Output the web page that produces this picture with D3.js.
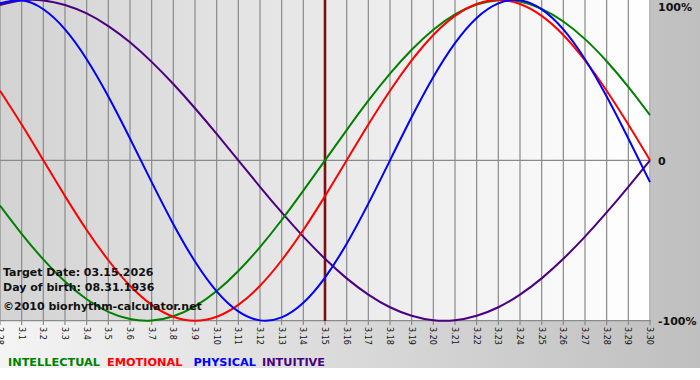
<!DOCTYPE html>
<html>
<head>
<meta charset="utf-8">
<script src="https://cdn.jsdelivr.net/npm/d3@7"></script>
<style>
  html, body { margin: 0; padding: 0; background: #fff; }
  svg { display: block; }
</style>
</head>
<body>
<svg id="chart" width="700" height="380"></svg>
<script>
// ---- data ----
const days = ["2.28","3.1","3.2","3.3","3.4","3.5","3.6","3.7","3.8","3.9","3.10",
  "3.11","3.12","3.13","3.14","3.15","3.16","3.17","3.18","3.19","3.20",
  "3.21","3.22","3.23","3.24","3.25","3.26","3.27","3.28","3.29","3.30"];
const intellectual = [-0.282,-0.458,-0.618,-0.756,-0.866,-0.945,-0.990,-0.999,-0.972,-0.910,-0.815,
  -0.690,-0.541,-0.372,-0.189,0.000,0.189,0.372,0.541,0.690,0.815,
  0.910,0.972,0.999,0.990,0.945,0.866,0.756,0.618,0.458,0.282];
const emotional = [0.434,0.223,0.000,-0.223,-0.434,-0.623,-0.782,-0.901,-0.975,-1.000,-0.975,
  -0.901,-0.782,-0.623,-0.434,-0.223,0.000,0.223,0.434,0.623,0.782,
  0.901,0.975,1.000,0.975,0.901,0.782,0.623,0.434,0.223,0.000];
const physical = [0.979,0.998,0.942,0.817,0.631,0.398,0.136,-0.136,-0.398,-0.631,-0.817,
  -0.942,-0.998,-0.979,-0.888,-0.731,-0.520,-0.270,0.000,0.270,0.520,
  0.731,0.888,0.979,0.998,0.942,0.817,0.631,0.398,0.136,-0.136];
const intuitive = [0.969,0.997,0.997,0.969,0.916,0.837,0.736,0.614,0.476,0.325,0.165,
  0.000,-0.165,-0.325,-0.476,-0.614,-0.736,-0.837,-0.916,-0.969,-0.997,
  -0.997,-0.969,-0.916,-0.837,-0.736,-0.614,-0.476,-0.325,-0.165,0.000];
const seriesNames = ["INTELLECTUAL","EMOTIONAL","PHYSICAL","INTUITIVE"];
const yTickValues = [1, 0, -1];
const yTickLabels = ["100%","0","-100%"];
const targetDay = "3.15";
const infoLines = ["Target Date: 03.15.2026","Day of birth: 08.31.1936","\u00A92010 biorhythm-calculator.net"];

// ---- styles / layout ----
const colors = {"INTELLECTUAL":"#008000","EMOTIONAL":"#ff0000","PHYSICAL":"#0000ff","INTUITIVE":"#4b0082"};
const seriesData = {"INTELLECTUAL":intellectual,"EMOTIONAL":emotional,"PHYSICAL":physical,"INTUITIVE":intuitive};
const drawOrder = ["INTUITIVE","INTELLECTUAL","EMOTIONAL","PHYSICAL"];
const W = 700, H = 380;
const plot = {left: 0, top: 0, width: 651, height: 321};
const boldFont = "'DejaVu Sans', Verdana, sans-serif";

const svg = d3.select("#chart");
const defs = svg.append("defs");

const outerGrad = defs.append("linearGradient").attr("id","outerGrad")
  .attr("x1","0").attr("x2","1").attr("y1","0").attr("y2","0");
outerGrad.append("stop").attr("offset","0").attr("stop-color","#f4f4f4");
outerGrad.append("stop").attr("offset","1").attr("stop-color","#bfbfbf");

const plotGrad = defs.append("linearGradient").attr("id","plotGrad")
  .attr("x1","0").attr("x2","1").attr("y1","0").attr("y2","0");
plotGrad.append("stop").attr("offset","0").attr("stop-color","#d3d3d3");
plotGrad.append("stop").attr("offset","1").attr("stop-color","#ffffff");

defs.append("clipPath").attr("id","plotClip").append("rect")
  .attr("x", plot.left).attr("y", plot.top - 1).attr("width", plot.width).attr("height", plot.height + 2);

svg.append("rect").attr("x",0).attr("y",0).attr("width",W).attr("height",368).attr("fill","url(#outerGrad)");
svg.append("rect").attr("x",0).attr("y",368).attr("width",W).attr("height",H-368).attr("fill","#ffffff");
svg.append("rect").attr("x",plot.left).attr("y",plot.top).attr("width",plot.width).attr("height",plot.height).attr("fill","url(#plotGrad)");

// ---- scales ----
const x = d3.scalePoint().domain(days).range([0, 650]);
const y = d3.scaleLinear().domain([-1, 1]).range([320.7, 0]);

// vertical grid + ticks
const g = svg.append("g");
g.selectAll("line.vgrid").data(days).enter().append("line")
  .attr("class","vgrid")
  .attr("x1", d => x(d)).attr("x2", d => x(d))
  .attr("y1", 0).attr("y2", 325)
  .attr("stroke", "#8a8a8a").attr("stroke-width", 1.2);

// horizontal lines
g.selectAll("line.hgrid").data([0, -1]).enter().append("line")
  .attr("class","hgrid")
  .attr("x1", 0).attr("x2", 651)
  .attr("y1", d => y(d)).attr("y2", d => y(d))
  .attr("stroke", "#8a8a8a").attr("stroke-width", 1.2);

// x tick labels (rotated)
g.selectAll("text.xlab").data(days).enter().append("text")
  .attr("class","xlab")
  .attr("transform", d => `translate(${x(d)},327) rotate(90)`)
  .attr("dy", "0.36em")
  .attr("font-family", "'DejaVu Sans', sans-serif")
  .attr("font-size", 8)
  .attr("fill", "#111")
  .text(d => d);

// target line
svg.append("line")
  .attr("x1", x(targetDay)).attr("x2", x(targetDay))
  .attr("y1", 0).attr("y2", 321)
  .attr("stroke", "#7a1212").attr("stroke-width", 2.6);

// curves
const line = d3.line()
  .x((d, i) => x(days[i]))
  .y(d => y(d))
  .curve(d3.curveNatural);
const curves = svg.append("g").attr("clip-path","url(#plotClip)");
drawOrder.forEach(name => {
  curves.append("path")
    .datum(seriesData[name])
    .attr("d", line)
    .attr("fill", "none")
    .attr("stroke", colors[name])
    .attr("stroke-width", 2);
});

// right labels
svg.selectAll("text.ylab").data(yTickValues).enter().append("text")
  .attr("class","ylab")
  .attr("x", 658)
  .attr("y", d => Math.max(y(d) + 4.5, 11))
  .attr("font-family", boldFont)
  .attr("font-weight", "bold")
  .attr("font-size", 11)
  .attr("fill", "#111")
  .text((d, i) => yTickLabels[i]);

// info text
const infoY = [276, 290.5, 310];
svg.selectAll("text.info").data(infoLines).enter().append("text")
  .attr("class","info")
  .attr("x", 3)
  .attr("y", (d, i) => infoY[i])
  .attr("font-family", boldFont)
  .attr("font-weight", "bold")
  .attr("font-size", 11)
  .attr("fill", "#111")
  .text(d => d);

// legend
const legendGaps = [0, 7, 11, 6];
let lx = 8;
seriesNames.forEach((name, i) => {
  lx += legendGaps[i];
  const t = svg.append("text")
    .attr("x", lx).attr("y", 366)
    .attr("font-family", boldFont)
    .attr("font-weight", "bold")
    .attr("font-size", 11.3)
    .attr("fill", colors[name])
    .text(name);
  lx += t.node().getComputedTextLength();
});
</script>
</body>
</html>
